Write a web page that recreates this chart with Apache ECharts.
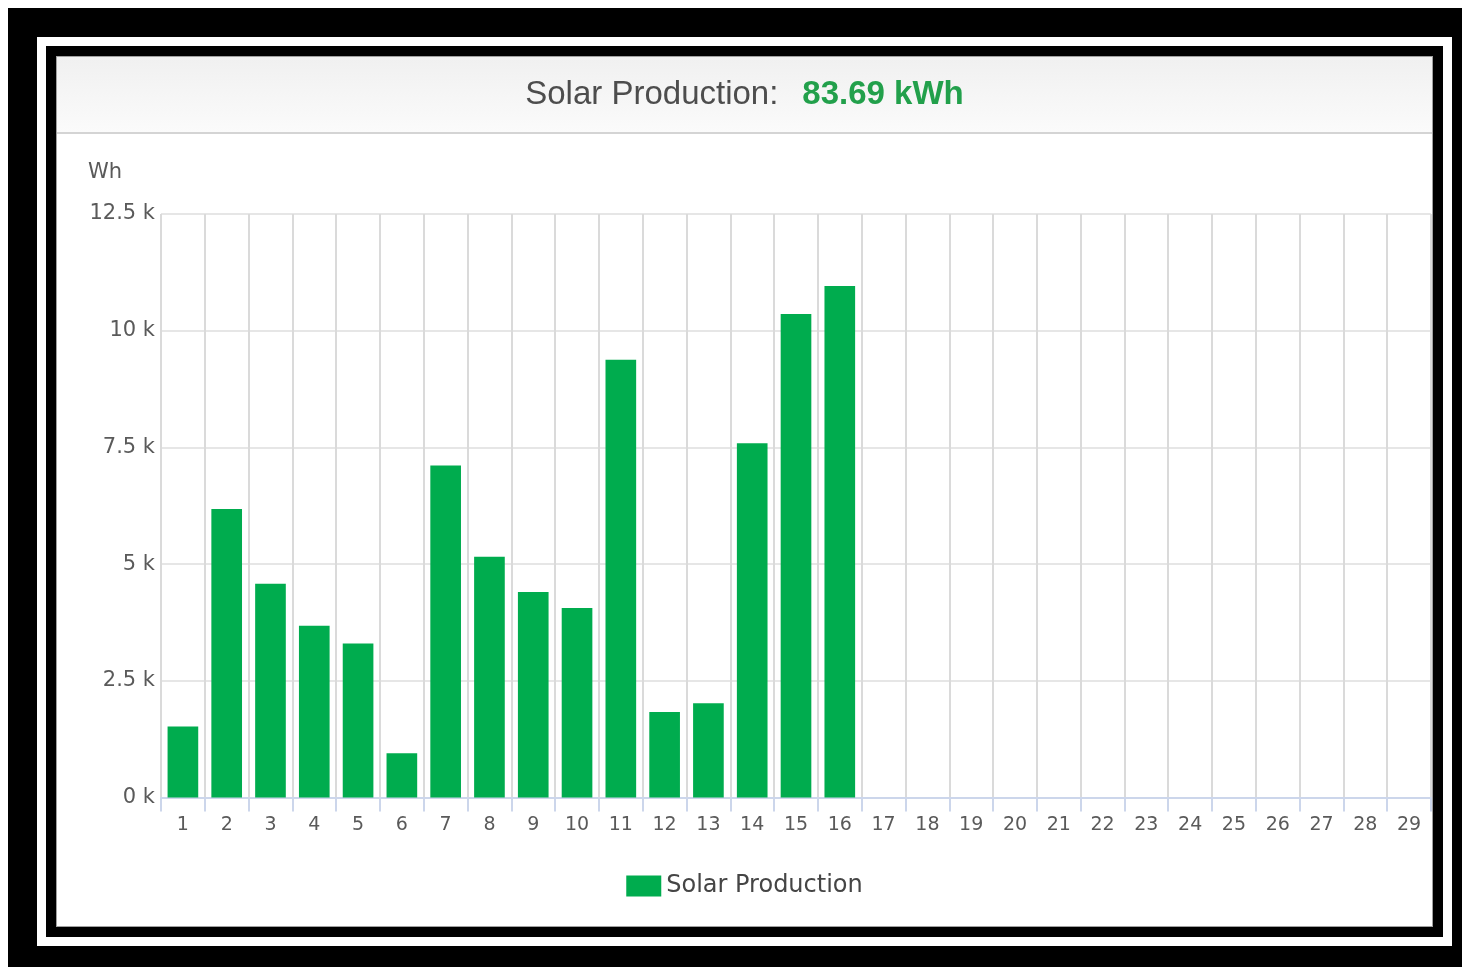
<!DOCTYPE html>
<html>
<head>
<meta charset="utf-8">
<script src="https://cdn.jsdelivr.net/npm/echarts@6/dist/echarts.min.js"></script>
<style>
  html, body { margin: 0; padding: 0; background: #ffffff; width: 1462px; height: 967px; overflow: hidden; }
  .abs { position: absolute; box-sizing: border-box; }
  #f1 { left: 8px; top: 8px; width: 1454px; height: 959px; background: #000; }
  #f2 { left: 37px; top: 37px; width: 1415px; height: 909px; background: #fff; }
  #f3 { left: 46px; top: 46px; width: 1397px; height: 891px; background: #000; }
  #panel { left: 56px; top: 56px; width: 1377px; height: 871px; background: #fff; border: 1px solid #a0a0a0; }
  #header { left: 57px; top: 57px; width: 1375px; height: 77px; background: linear-gradient(#f0f0f0, #fbfbfb); border-bottom: 2px solid #d4d4d4; }
  #chart { left: 56px; top: 56px; width: 1377px; height: 871px; }
</style>
</head>
<body>
<div class="abs" id="f1"></div>
<div class="abs" id="f2"></div>
<div class="abs" id="f3"></div>
<div class="abs" id="panel"></div>
<div class="abs" id="header"></div>
<div class="abs" id="chart"></div>
<script>
// ---- data ----
const titleLabel = 'Solar Production:';
const totalLabel = '83.69 kWh';
const seriesName = 'Solar Production';
const unitLabel = 'Wh';
const days = ['1','2','3','4','5','6','7','8','9','10','11','12','13','14','15','16','17','18','19','20','21','22','23','24','25','26','27','28','29'];
const production = [1520, 6180, 4580, 3680, 3300, 950, 7110, 5160, 4400, 4060, 9380, 1830, 2020, 7590, 10360, 10960];
const yTicks = [0, 2500, 5000, 7500, 10000, 12500];

const chart = echarts.init(document.getElementById('chart'), null, { renderer: 'canvas' });
const labelColor = '#5a5a5a';
const font = 'DejaVu Sans, Verdana, sans-serif';

chart.setOption({
  animation: false,
  backgroundColor: 'transparent',
  title: {
    text: '{a|' + titleLabel + '}{b|' + totalLabel + '}',
    left: 'center',
    top: 22,
    padding: 0,
    textStyle: {
      fontWeight: 'normal',
      rich: {
        a: { fontFamily: 'Liberation Sans, Arial, sans-serif', fontSize: 33, fontWeight: 'normal', color: '#4d4d4d' },
        b: { fontFamily: 'Liberation Sans, Arial, sans-serif', fontSize: 33, fontWeight: 'bold', color: '#22a04b', padding: [0, 0, 0, 24] }
      }
    }
  },
  graphic: [{
    type: 'text',
    left: 32,
    top: 106,
    style: { text: unitLabel, fontFamily: font, fontSize: 21, fill: labelColor }
  }],
  legend: {
    data: [seriesName],
    left: 'center',
    top: 813,
    itemWidth: 35,
    itemHeight: 21,
    itemGap: 12,
    icon: 'rect',
    textStyle: { fontFamily: font, fontSize: 24, color: '#454545' }
  },
  grid: { left: 105, right: 2, top: 158, bottom: 129.5, containLabel: false },
  xAxis: {
    type: 'category',
    data: days,
    boundaryGap: true,
    axisLine: { show: true, lineStyle: { color: '#ccd6eb', width: 2 } },
    axisTick: { show: true, interval: 0, length: 14, lineStyle: { color: '#ccd6eb', width: 2 } },
    axisLabel: { interval: 0, margin: 18, fontFamily: font, fontSize: 19, color: labelColor },
    splitLine: { show: true, interval: 0, lineStyle: { color: '#dadada', width: 2 } }
  },
  yAxis: {
    type: 'value',
    min: yTicks[0],
    max: yTicks[yTicks.length - 1],
    interval: yTicks[1] - yTicks[0],
    axisLine: { show: false },
    axisTick: { show: false },
    axisLabel: {
      margin: 6,
      fontFamily: font,
      fontSize: 21,
      color: labelColor,
      formatter: v => (v / 1000) + ' k'
    },
    splitLine: { show: true, lineStyle: { color: '#e6e6e6', width: 2 } }
  },
  series: [{
    name: seriesName,
    type: 'bar',
    data: production,
    barWidth: '70%',
    itemStyle: { color: '#00ac4e' }
  }]
});
</script>
</body>
</html>
